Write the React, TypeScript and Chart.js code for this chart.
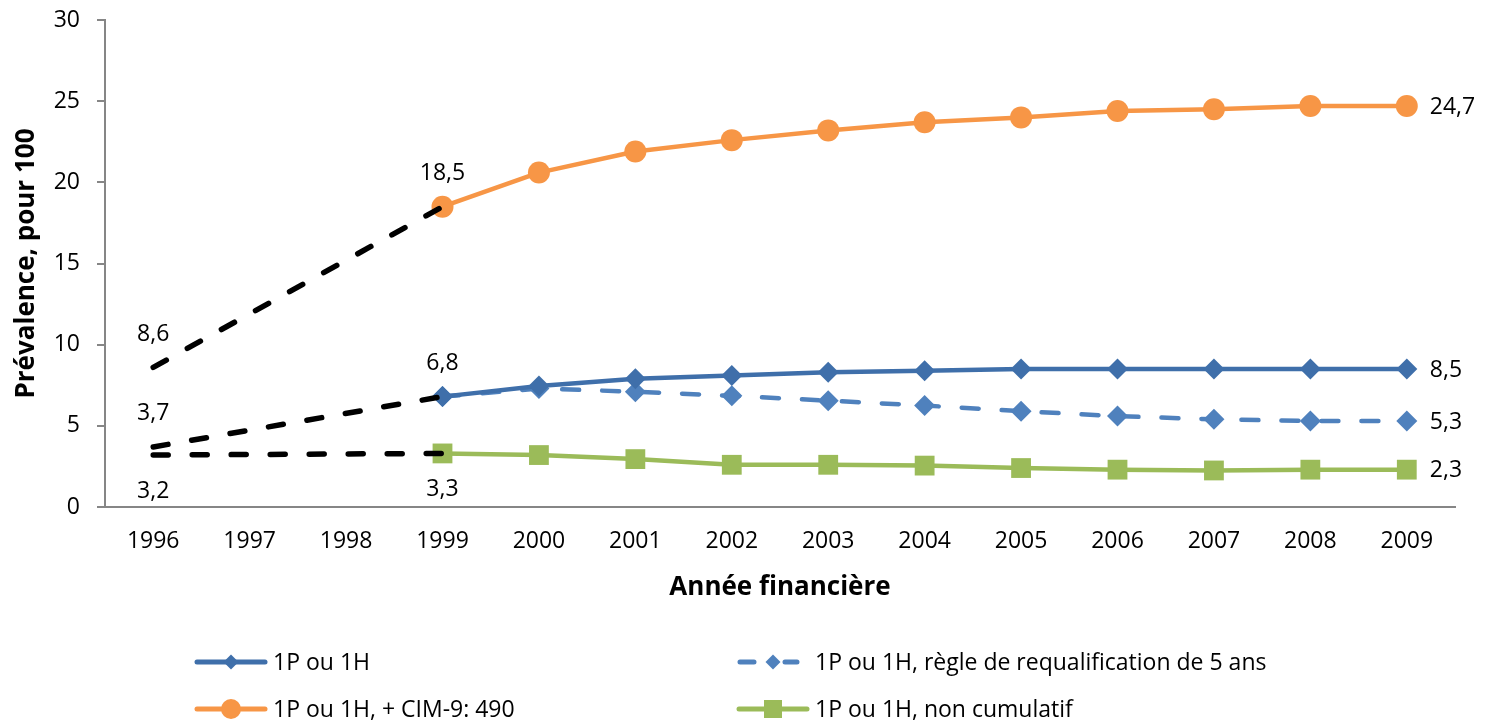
import React, { useEffect, useRef } from "react";
import { Chart, registerables } from "chart.js";

Chart.register(...registerables);

// ---------- data ----------
const years = ["1996", "1997", "1998", "1999", "2000", "2001", "2002", "2003", "2004", "2005", "2006", "2007", "2008", "2009"];
const yTicks = [0, 5, 10, 15, 20, 25, 30];

const seriesNames = [
  "1P ou 1H",
  "1P ou 1H, règle de requalification de 5 ans",
  "1P ou 1H, + CIM-9: 490",
  "1P ou 1H, non cumulatif",
];

const blueSolid = [null, null, null, 6.8, 7.45, 7.9, 8.1, 8.3, 8.4, 8.5, 8.5, 8.5, 8.5, 8.5];
const blueDashed = [null, null, null, 6.8, 7.3, 7.1, 6.85, 6.55, 6.25, 5.9, 5.6, 5.4, 5.3, 5.3];
const orangeSeries = [null, null, null, 18.5, 20.6, 21.9, 22.6, 23.2, 23.7, 24.0, 24.4, 24.5, 24.7, 24.7];
const greenSeries = [null, null, null, 3.3, 3.2, 2.95, 2.6, 2.6, 2.55, 2.4, 2.3, 2.25, 2.3, 2.3];

const bridgeOrange = [8.6, null, null, 18.5, null, null, null, null, null, null, null, null, null, null];
const bridgeBlue = [3.7, null, null, 6.8, null, null, null, null, null, null, null, null, null, null];
const bridgeGreen = [3.2, null, null, 3.3, null, null, null, null, null, null, null, null, null, null];

const xTitle = "Année financière";
const yTitle = "Prévalence, pour 100";

// ---------- styles ----------
const FONT = "'Open Sans', 'DejaVu Sans', sans-serif";
const AXIS_COLOR = "#868686";
const C_BLUE = "#3F6FAA";
const C_BLUE2 = "#4F81BD";
const C_ORANGE = "#F79646";
const C_GREEN = "#9BBB59";

const fmt = (v: number) => v.toFixed(1).replace(".", ",");

// label placement: [datasetIndex, pointIndex, mode]
const labelPlan: Array<[number, number, "above" | "below" | "right"]> = [
  [4, 0, "above"],
  [5, 0, "above"],
  [6, 0, "below"],
  [2, 3, "above"],
  [0, 3, "above"],
  [3, 3, "below"],
  [2, 13, "right"],
  [0, 13, "right"],
  [1, 13, "right"],
  [3, 13, "right"],
];

const labelPlugin = {
  id: "valueLabels",
  afterDatasetsDraw(chart: any) {
    const ctx = chart.ctx;
    ctx.save();
    ctx.font = `23px ${FONT}`;
    ctx.fillStyle = "#000";
    for (const [di, pi, mode] of labelPlan) {
      const meta = chart.getDatasetMeta(di);
      const el = meta.data[pi];
      const v = chart.data.datasets[di].data[pi];
      if (!el || v == null) continue;
      const t = fmt(v);
      ctx.textBaseline = "middle";
      if (mode === "right") {
        ctx.textAlign = "left";
        ctx.fillText(t, el.x + 23, el.y + 1);
      } else if (mode === "above") {
        ctx.textAlign = "center";
        ctx.fillText(t, el.x, el.y - 33);
      } else {
        ctx.textAlign = "center";
        ctx.fillText(t, el.x, el.y + 36);
      }
    }
    ctx.restore();
  },
};

function drawMarker(ctx: CanvasRenderingContext2D, style: string, x: number, y: number, r: number) {
  ctx.beginPath();
  if (style === "circle") {
    ctx.arc(x, y, r, 0, Math.PI * 2);
  } else if (style === "rectRot") {
    ctx.moveTo(x, y - r);
    ctx.lineTo(x + r, y);
    ctx.lineTo(x, y + r);
    ctx.lineTo(x - r, y);
    ctx.closePath();
  } else {
    ctx.rect(x - r, y - r, 2 * r, 2 * r);
  }
  ctx.fill();
}

// [datasetIndex, markerCenterX, centerY, markerSize]
const legendLayout: Array<[number, number, number, number]> = [
  [0, 231, 662, 7.5],
  [1, 773, 662, 7.5],
  [2, 231, 709, 10],
  [3, 773, 709, 9],
];

const legendPlugin = {
  id: "gridLegend",
  afterDraw(chart: any) {
    const ctx = chart.ctx;
    ctx.save();
    for (const [di, cx, cy, ms] of legendLayout) {
      const ds = chart.data.datasets[di];
      ctx.strokeStyle = ds.borderColor;
      ctx.lineWidth = 5;
      ctx.setLineDash([]);
      ctx.lineCap = "round";
      ctx.beginPath();
      if (ds.borderDash && ds.borderDash.length) {
        ctx.moveTo(cx - 33, cy);
        ctx.lineTo(cx - 19, cy);
        ctx.moveTo(cx + 12, cy);
        ctx.lineTo(cx + 24, cy);
      } else {
        ctx.moveTo(cx - 34, cy);
        ctx.lineTo(cx + 34, cy);
      }
      ctx.stroke();
      ctx.fillStyle = ds.pointBackgroundColor;
      drawMarker(ctx, ds.pointStyle, cx, cy, ms);
      ctx.fillStyle = "#000";
      ctx.font = `23px ${FONT}`;
      ctx.textAlign = "left";
      ctx.textBaseline = "middle";
      ctx.fillText(ds.label, cx + 42, cy + 1);
    }
    ctx.restore();
  },
};

export default function App() {
  const ref = useRef<HTMLCanvasElement | null>(null);

  useEffect(() => {
    if (!ref.current) return;
    const line = (label: string, data: any[], color: string, style: string, r: number, dash: number[] | undefined, order: number) => ({
      label,
      data,
      borderColor: color,
      backgroundColor: color,
      pointBackgroundColor: color,
      pointBorderColor: color,
      pointBorderWidth: 0,
      borderWidth: 4.5,
      borderDash: dash,
      borderCapStyle: "round",
      borderJoinStyle: "round",
      pointStyle: style,
      pointRadius: r,
      pointHoverRadius: r,
      tension: 0,
      spanGaps: false,
      order,
    });
    const bridge = (data: any[]) => ({
      label: "",
      data,
      borderColor: "#000",
      borderWidth: 5.5,
      borderDash: [15, 24],
      borderCapStyle: "round",
      pointRadius: 0,
      pointHoverRadius: 0,
      spanGaps: true,
      tension: 0,
      order: 0,
    });

    const chart = new Chart(ref.current, {
      type: "line",
      data: {
        labels: years,
        datasets: [
          line(seriesNames[0], blueSolid, C_BLUE, "rectRot", 10.5, undefined, 1),
          line(seriesNames[1], blueDashed, C_BLUE2, "rectRot", 10.5, [17, 23], 2),
          line(seriesNames[2], orangeSeries, C_ORANGE, "circle", 11, undefined, 1),
          line(seriesNames[3], greenSeries, C_GREEN, "rect", 14, undefined, 1),
          bridge(bridgeOrange),
          bridge(bridgeBlue),
          bridge(bridgeGreen),
        ] as any,
      },
      options: {
        responsive: false,
        animation: false,
        layout: { autoPadding: false, padding: { left: 0, right: 31, top: 20, bottom: 0 } },
        plugins: {
          legend: { display: false },
          tooltip: { enabled: false },
          title: { display: false },
        },
        scales: {
          x: {
            type: "category",
            offset: true,
            grid: { display: false, drawTicks: false },
            border: { display: true, color: AXIS_COLOR, width: 2 },
            ticks: { color: "#000", font: { family: FONT, size: 23 }, padding: 21, maxRotation: 0, autoSkip: false },
            title: {
              display: true,
              text: xTitle,
              color: "#000",
              font: { family: FONT, size: 26, weight: "bold" },
              padding: { top: 0, bottom: 120 },
            },
            afterFit(scale: any) {
              scale.height = 216;
              scale.paddingLeft = 0;
              scale.paddingRight = 0;
            },
          },
          y: {
            min: 0,
            max: 30,
            afterBuildTicks(scale: any) {
              scale.ticks = yTicks.map((v) => ({ value: v }));
            },
            grid: { drawOnChartArea: false, drawTicks: true, tickLength: 8, color: AXIS_COLOR, lineWidth: 2 },
            border: { display: true, color: AXIS_COLOR, width: 2 },
            ticks: { color: "#000", font: { family: FONT, size: 23 }, padding: 17 },
            title: {
              display: true,
              text: yTitle,
              color: "#000",
              font: { family: FONT, size: 26, weight: "bold" },
              padding: { top: 11, bottom: 0 },
            },
            afterFit(scale: any) {
              scale.width = 105;
              scale.paddingTop = 0;
              scale.paddingBottom = 0;
            },
          },
        },
      },
      plugins: [labelPlugin, legendPlugin],
    });
    return () => chart.destroy();
  }, []);

  return (
    <div style={{ position: "absolute", left: 0, top: 0, width: 1486, height: 723, background: "#fff" }}>
      <canvas ref={ref} width={1486} height={723} style={{ display: "block", width: 1486, height: 723 }} />
    </div>
  );
}
